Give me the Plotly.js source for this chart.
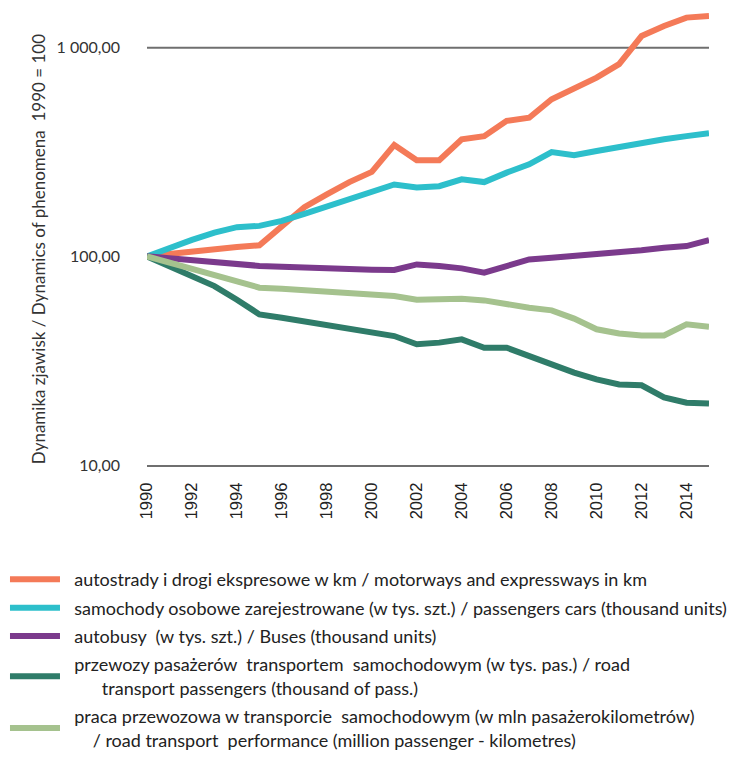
<!DOCTYPE html>
<html>
<head>
<meta charset="utf-8">
<script src="https://cdn.plot.ly/plotly-3.0.1.min.js"></script>
<style>html,body{margin:0;padding:0;background:#fff;}#chart{width:733px;height:767px;}</style>
</head>
<body>
<div id="chart"></div>
<script>
var years = [1990,1991,1992,1993,1994,1995,1996,1997,1998,1999,2000,2001,2002,2003,2004,2005,2006,2007,2008,2009,2010,2011,2012,2013,2014,2015];

var motorways = [100,103,106,109,111,113,139,172,198,227,254,342,289,289,364,377,446,462,566,636,719,834,1138,1271,1394,1419];
var cars      = [100,110,120,130,138,140,148,160,174,188,203,221,214,217,234,227,252,276,316,305,320,335,351,364,377,389];
var buses     = [100,98,95,93,91,90,89.2,88.2,87.6,86.6,86.3,86,91.5,89.8,87.6,83.5,89.8,96.7,98.6,100.4,102.2,104,106.9,110,112,119.7];
var passengers = [100,90,81,72,62,52.7,50.8,48.9,47.2,45.5,43.8,41.5,37.9,38.6,40,36.5,36.5,33.2,30.3,27.7,25.7,24.3,24.1,21.1,19.9,19.7];
var performance = [100,93.3,87.1,81.3,75.9,70.8,70,68.9,68.2,67,66.2,64.5,62,62.7,62.7,61.5,58.8,56.7,55.1,50.3,44.7,42.7,41.8,41.8,47.2,46];

var names = [
  "autostrady i drogi ekspresowe w km / motorways and expressways in km",
  "samochody osobowe zarejestrowane (w tys. szt.) / passengers cars (thousand units)",
  "autobusy  (w tys. szt.) / Buses (thousand units)",
  "przewozy pasażerów  transportem  samochodowym (w tys. pas.) / road<br>\u00a0\u00a0\u00a0\u00a0\u00a0\u00a0\u00a0\u00a0transport passengers (thousand of pass.)",
  "praca przewozowa w transporcie  samochodowym (w mln pasażerokilometrów)<br>\u00a0\u00a0\u00a0\u00a0\u00a0\u00a0/ road transport  performance (million passenger - kilometres)"
];
var colors = ["#F47A58", "#2DBFCB", "#7B3A8C", "#2F7C69", "#A5C28E"];
var series = [motorways, cars, buses, passengers, performance];

var yTitle = 'Dynamika zjawisk / Dynamics of phenomena  1990 = 100';
var yTickVals = [10, 100, 1000];
var yTickText = ["10,00", "100,00", "1 000,00"];
var xTickVals = [1990,1992,1994,1996,1998,2000,2002,2004,2006,2008,2010,2012,2014];

var pad = '\u00a0\u00a0';
var traces = series.map(function(s, i){
  return {
    x: years, y: s, type: 'scatter', mode: 'lines', name: pad + names[i],
    line: {color: colors[i], width: 6},
    legendgroup: 'g' + i
  };
});

var layout = {
  width: 733, height: 767,
  margin: {l: 147, r: 24, t: 6, b: 302, autoexpand: false},
  paper_bgcolor: '#fff', plot_bgcolor: '#fff',
  font: {family: 'Lato, "Open Sans", sans-serif', color: '#333', size: 15},
  showlegend: true,
  legend: {
    xref: 'container', yref: 'container', x: 0.0068, y: 0.2685, xanchor: 'left', yanchor: 'top',
    font: {family: 'Lato, sans-serif', size: 18, color: '#222'},
    itemwidth: 50, tracegroupgap: 2, traceorder: 'grouped'
  },
  xaxis: {
    range: [1990, 2015], tickvals: xTickVals, tickangle: -90,
    showgrid: false, zeroline: false, showline: true, linecolor: '#6f6f6f', linewidth: 2,
    ticks: '', tickfont: {family: '"Liberation Sans", Arial, sans-serif', size: 16.5, color: '#222'},
    ticklabelstandoff: 9
  },
  yaxis: {
    type: 'log', range: [1, 3.2], tickvals: yTickVals, ticktext: yTickText,
    showgrid: false, zeroline: false, showline: false, ticks: '',
    tickfont: {family: 'Lato, sans-serif', size: 16, color: '#333'},
    ticklabelstandoff: 26
  },
  annotations: [{
    text: yTitle, xref: 'paper', yref: 'paper', x: -0.194, y: 0.47,
    xanchor: 'center', yanchor: 'middle', textangle: -90, showarrow: false,
    font: {family: 'Lato, sans-serif', size: 17, color: '#333'}
  }],
  shapes: [{type: 'line', xref: 'paper', x0: 0, x1: 1, yref: 'y', y0: 1000, y1: 1000, line: {color: '#6f6f6f', width: 2}, layer: 'below'}]
};

Plotly.newPlot('chart', traces, layout, {displayModeBar: false, staticPlot: true});
</script>
</body>
</html>
